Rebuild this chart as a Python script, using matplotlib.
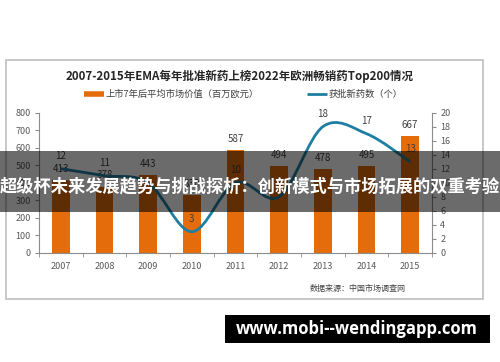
import numpy as np
import matplotlib
matplotlib.use('Agg')
import matplotlib.pyplot as plt
from matplotlib.path import Path
from matplotlib.patches import PathPatch, Rectangle
from matplotlib.lines import Line2D

plt.rcParams['font.family'] = ['Noto Sans CJK SC', 'DejaVu Sans']

years = ['2007', '2008', '2009', '2010', '2011', '2012', '2013', '2014', '2015']
market_value = [413, 378, 443, 330, 587, 494, 478, 495, 667]
new_drugs = [12, 11, 10, 3, 10, 8, 18, 17, 13]
drug_labels = ['12', '11', '', '3', '10', '8', '18', '17', '13']

title = '2007-2015年EMA每年批准新药上榜2022年欧洲畅销药Top200情况'
bar_name = '上市7年后平均市场价值（百万欧元）'
line_name = '获批新药数（个）'
source = '数据来源：中国市场调查网'
banner = '超级杯未来发展趋势与挑战探析：创新模式与市场拓展的双重考验'
site = 'www.mobi--wendingapp.com'

orange = '#e46c0a'
blue = '#1f7ea1'
grey = '#595959'
axis_grey = '#8c8c8c'

W, H = 500, 362
fig = plt.figure(figsize=(5, 3.62), dpi=100)
fig.patch.set_facecolor('white')

def fx(px):
    return px / W

def fy(py):
    return 1 - py / H

# chart frame
fig.add_artist(Rectangle((fx(6), fy(299)), fx(477), 239 / H, transform=fig.transFigure,
                         fill=False, edgecolor='#c4c4c4', lw=1.3))

ax = fig.add_axes([fx(39), fy(252.7), fx(393), 140 / H])
xs = np.arange(len(years))
ax.bar(xs, market_value, width=0.4, color=orange, zorder=2)
ax.set_xlim(-0.5, len(years) - 0.5)
ax.set_ylim(0, 800)
ax.set_yticks(range(0, 801, 100))
ax.set_xticks(xs, years)
ax.set_xticks(np.arange(-0.5, len(years), 1), minor=True)
ax.tick_params(axis='x', which='major', length=0, pad=7, labelsize=6.5, labelcolor=grey)
ax.tick_params(axis='x', which='minor', length=3, color=axis_grey)
ax.tick_params(axis='y', length=3, color=axis_grey, labelsize=6.5, labelcolor=grey, pad=3)
for s in ['top', 'right']:
    ax.spines[s].set_visible(False)
for s in ['left', 'bottom']:
    ax.spines[s].set_color(axis_grey)
    ax.spines[s].set_linewidth(0.8)

for x, v in zip(xs, market_value):
    ax.annotate(str(v), (x, v), xytext=(0, 8), textcoords='offset points',
                ha='center', va='center', fontsize=7, color='#404040', zorder=3)

ax2 = ax.twinx()
ax2.set_ylim(0, 20)
ax2.set_yticks(range(0, 21, 2))
ax2.tick_params(axis='y', length=3, color=axis_grey, labelsize=6.5, labelcolor=grey, pad=3)
for s in ['top', 'left', 'bottom']:
    ax2.spines[s].set_visible(False)
ax2.spines['right'].set_color(axis_grey)
ax2.spines['right'].set_linewidth(0.8)

# smoothed line like excel
pts = list(zip(xs, new_drugs))
verts = [pts[0]]
codes = [Path.MOVETO]
for i in range(len(pts) - 1):
    p0 = pts[i - 1] if i > 0 else pts[i]
    p1 = pts[i]
    p2 = pts[i + 1]
    p3 = pts[i + 2] if i + 2 < len(pts) else pts[i + 1]
    c1 = (p1[0] + (p2[0] - p0[0]) / 6, p1[1] + (p2[1] - p0[1]) / 6)
    c2 = (p2[0] - (p3[0] - p1[0]) / 6, p2[1] - (p3[1] - p1[1]) / 6)
    verts += [c1, c2, p2]
    codes += [Path.CURVE4] * 3
ax2.add_patch(PathPatch(Path(verts, codes), fill=False, edgecolor=blue, lw=2, zorder=4))

for x, v, lab in zip(xs, new_drugs, drug_labels):
    ax2.annotate(lab, (x, v), xytext=(0, 9.5), textcoords='offset points',
                 ha='center', va='center', fontsize=7, color='#404040', zorder=5)

# title and legend
fig.text(fx(240), fy(76), title, ha='center', va='center', fontsize=8.3,
         fontweight='bold', color='#262626')
fig.add_artist(Line2D([fx(84), fx(104)], [fy(94), fy(94)], transform=fig.transFigure,
                      color=orange, lw=4, solid_capstyle='butt'))
fig.text(fx(106), fy(94), bar_name, ha='left', va='center', fontsize=6.7, color='#404040')
fig.add_artist(Line2D([fx(307), fx(327)], [fy(94), fy(94)], transform=fig.transFigure,
                      color=blue, lw=2, solid_capstyle='butt'))
fig.text(fx(329), fy(94), line_name, ha='left', va='center', fontsize=6.7, color='#404040')

fig.text(fx(358), fy(288), source, ha='center', va='center', fontsize=5.8, color='#404040')

# overlay banner
fig.add_artist(Rectangle((0, fy(212)), 1, 61 / H, transform=fig.transFigure,
                         facecolor='black', alpha=0.58, edgecolor='none', zorder=10))
fig.text(0.5, fy(186), banner, ha='center', va='center', fontsize=12.4,
         fontweight='bold', color='white', zorder=11)

# site box
fig.add_artist(Rectangle((fx(225), fy(343)), fx(265), 28 / H, transform=fig.transFigure,
                         facecolor='black', edgecolor='none', zorder=10))
fig.text(fx(357), fy(329), site, ha='center', va='center', fontsize=12,
         fontweight='bold', color='white', family=['Open Sans', 'DejaVu Sans'], zorder=11)

fig.savefig('out.png', dpi=100)
